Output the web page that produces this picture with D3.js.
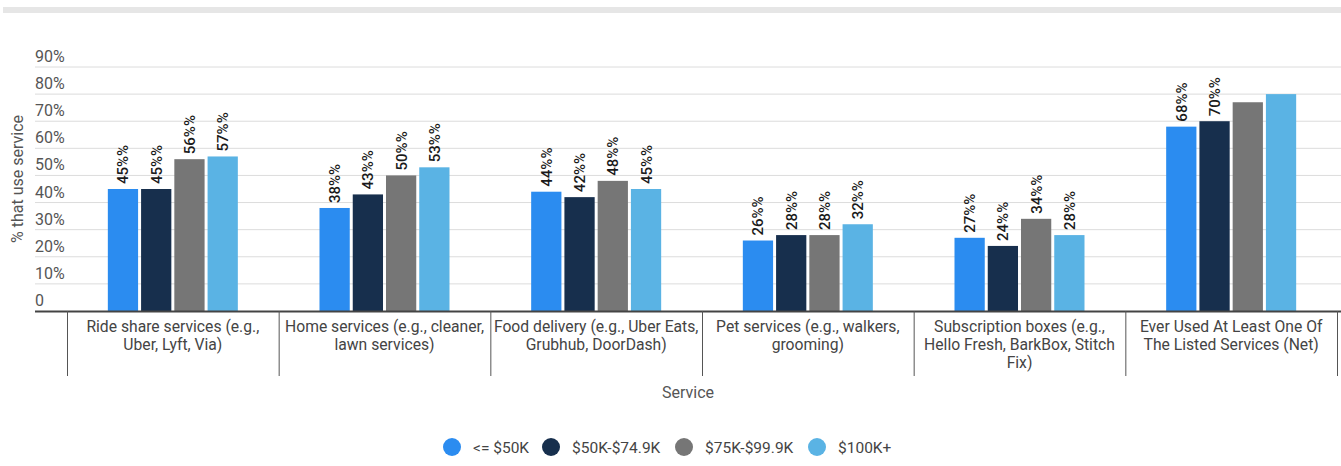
<!DOCTYPE html>
<html>
<head>
<meta charset="utf-8">
<script src="https://cdnjs.cloudflare.com/ajax/libs/d3/7.8.5/d3.min.js"></script>
<style>
  html, body { margin: 0; padding: 0; background: #fff; }
  svg { display: block; font-family: Roboto, "Noto Sans", sans-serif; }
</style>
</head>
<body>
<svg id="chart" width="1341" height="466"></svg>
<script>
// Share of respondents using each service, by household income
const categories = [
  "Ride share services (e.g., Uber, Lyft, Via)",
  "Home services (e.g., cleaner, lawn services)",
  "Food delivery (e.g., Uber Eats, Grubhub, DoorDash)",
  "Pet services (e.g., walkers, grooming)",
  "Subscription boxes (e.g., Hello Fresh, BarkBox, Stitch Fix)",
  "Ever Used At Least One Of The Listed Services (Net)"
];
const seriesNames = ["<= $50K", "$50K-$74.9K", "$75K-$99.9K", "$100K+"];
const under50 = [45, 38, 44, 26, 27, 68];
const from50to75 = [45, 43, 42, 28, 24, 70];
const from75to100 = [56, 50, 48, 28, 34, 77];
const over100 = [57, 53, 45, 32, 28, 80];
// which values carry a printed label (the net group only labels the first two)
const labelled = [
  [true, true, true, true, true, true],
  [true, true, true, true, true, true],
  [true, true, true, true, true, false],
  [true, true, true, true, true, false]
];
const yTicks = [0, 10, 20, 30, 40, 50, 60, 70, 80, 90];
const colors = ["#2b8cf0", "#172f4d", "#767676", "#5ab3e4"];

const seriesValues = [under50, from50to75, from75to100, over100];

const svg = d3.select("#chart");

// top strip
svg.append("rect").attr("x", 3).attr("y", 7).attr("width", 1338).attr("height", 6).attr("fill", "#e6e6e6");

const plotLeft = 35, plotRight = 1341;
const x0 = d3.scaleBand().domain(categories).range([67, 1337]).paddingInner(0).paddingOuter(0);
const x1 = d3.scaleBand().domain(seriesNames).range([0, 130]).paddingInner(0.09);
const y = d3.scaleLinear().domain([0, 90]).range([311, 67]);

// gridlines + tick labels
const grid = svg.append("g");
grid.selectAll("line").data(yTicks.filter(d => d > 0)).join("line")
  .attr("x1", plotLeft).attr("x2", plotRight)
  .attr("y1", d => y(d)).attr("y2", d => y(d))
  .attr("stroke", "#dcdcdc").attr("stroke-width", 1);
grid.selectAll("text").data(yTicks).join("text")
  .attr("x", plotLeft).attr("y", d => y(d) - 5)
  .attr("font-size", 16).attr("fill", "#555")
  .text(d => d === 0 ? "0" : d + "%");

// y axis title
svg.append("text")
  .attr("transform", "translate(23,179) rotate(-90)")
  .attr("text-anchor", "middle").attr("font-size", 16).attr("fill", "#555")
  .text("% that use service");

// bars
const groups = svg.append("g").selectAll("g").data(categories).join("g")
  .attr("transform", c => `translate(${x0(c) + (x0.bandwidth() - 130) / 2},0)`);

groups.each(function (c, ci) {
  const g = d3.select(this);
  const rows = seriesNames.map((s, si) => ({ s, si, v: seriesValues[si][ci], show: labelled[si][ci] }));
  g.selectAll("rect").data(rows).join("rect")
    .attr("x", d => x1(d.s)).attr("width", x1.bandwidth())
    .attr("y", d => y(d.v)).attr("height", d => y(0) - y(d.v))
    .attr("fill", d => colors[d.si]);
  g.selectAll("text").data(rows.filter(d => d.show)).join("text")
    .attr("transform", d => `translate(${x1(d.s) + x1.bandwidth() / 2 + 5.5},${y(d.v) - 5}) rotate(-90)`)
    .attr("font-size", 15).attr("font-weight", 500).attr("fill", "#1a1a1a")
    .text(d => d.v + "%%");
});

// x axis baseline
svg.append("line").attr("x1", plotLeft).attr("x2", plotRight)
  .attr("y1", y(0) + 0.5).attr("y2", y(0) + 0.5)
  .attr("stroke", "#444").attr("stroke-width", 2);

// category separators
const seps = categories.map(c => x0(c)).concat([x0.range()[1]]);
svg.append("g").selectAll("line").data(seps).join("line")
  .attr("x1", d => d + 0.5).attr("x2", d => d + 0.5)
  .attr("y1", y(0)).attr("y2", 376)
  .attr("stroke", "#555").attr("stroke-width", 1);

// category labels, wrapped to the band width
function wrapLines(text, width, measure) {
  const words = text.split(" ");
  const lines = [];
  let line = "";
  for (const w of words) {
    const test = line ? line + " " + w : w;
    if (measure(test) > width && line) { lines.push(line); line = w; }
    else line = test;
  }
  if (line) lines.push(line);
  return lines;
}
const catFont = 15.7;
const probe = svg.append("text").attr("font-size", catFont).attr("visibility", "hidden");
const measure = s => { probe.text(s); return probe.node().getComputedTextLength(); };

const catLabels = svg.append("g");
categories.forEach(c => {
  const lines = wrapLines(c, x0.bandwidth() - 2, measure);
  const t = catLabels.append("text")
    .attr("text-anchor", "middle").attr("font-size", catFont).attr("fill", "#444");
  lines.forEach((l, i) => {
    t.append("tspan").attr("x", x0(c) + x0.bandwidth() / 2).attr("y", 332 + i * 18).text(l);
  });
});
probe.remove();

// x axis title
svg.append("text").attr("x", 688).attr("y", 398).attr("text-anchor", "middle")
  .attr("font-size", 16).attr("fill", "#555").text("Service");

// legend
const legendX = [452, 551, 684, 817];
const legend = svg.append("g").selectAll("g").data(seriesNames).join("g")
  .attr("transform", (d, i) => `translate(${legendX[i]},447)`);
legend.append("circle").attr("r", 9).attr("fill", (d, i) => colors[i]);
legend.append("text").attr("x", 21).attr("y", 5.5).attr("font-size", 15.5).attr("fill", "#444").text(d => d);
</script>
</body>
</html>
